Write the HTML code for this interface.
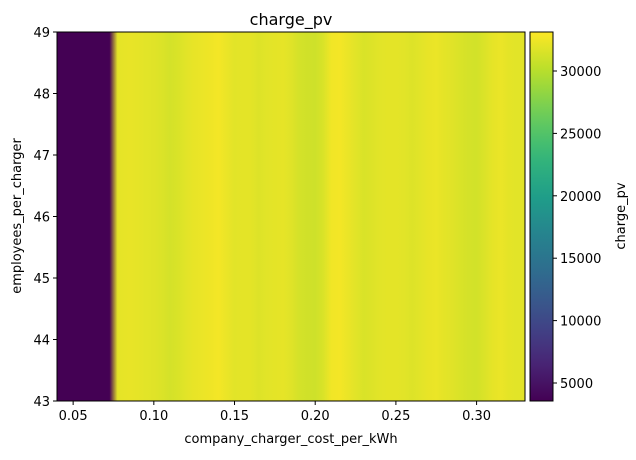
<!DOCTYPE html>
<html><head><meta charset="utf-8"><style>
body{margin:0;background:#fff;font-family:"Liberation Sans","DejaVu Sans",sans-serif;}
svg text{font-family:"DejaVu Sans","Liberation Sans",sans-serif;fill:#000;}
</style></head><body>
<svg id="chart" width="636" height="455" xmlns="http://www.w3.org/2000/svg">
<defs id="defs"></defs>
<text x="291" y="25" font-size="16" text-anchor="middle">charge_pv</text>
<g id="heat"></g>
<g id="cbar"></g>
<g id="axes"></g>
</svg>
<script>
const xCols = [0.04,0.05,0.06,0.07,0.0725,0.0775,0.08,0.085,0.09,0.095,0.10,0.105,0.11,0.115,0.12,0.125,0.13,0.135,0.14,0.145,0.15,0.155,0.16,0.165,0.17,0.175,0.18,0.185,0.19,0.195,0.20,0.205,0.21,0.215,0.22,0.225,0.23,0.235,0.24,0.245,0.25,0.255,0.26,0.265,0.27,0.275,0.28,0.285,0.29,0.295,0.30,0.305,0.31,0.315,0.32,0.325,0.33];
const colValues = [3600,3600,3600,3600,3600,32000,32100,32200,32100,31900,31800,31600,31300,31500,31900,32200,32300,32500,32700,32300,31900,32000,32000,31700,31900,32000,32100,31800,31300,31100,31000,31500,32600,32700,32300,31900,31500,31700,31900,32000,32000,31900,31700,31900,32200,32300,32000,31800,31500,31300,31200,31600,32100,32300,32000,31900,31900];
const xTicks = [0.05,0.10,0.15,0.20,0.25,0.30];
const yTicks = [43,44,45,46,47,48,49];
const cTicks = [5000,10000,15000,20000,25000,30000];
const vmin = 3558, vmax = 33125;
const X0=57,X1=525,Y0=32,Y1=401,CX0=530,CX1=553;
const xS = v => X0 + (v-0.04)/(0.33-0.04)*(X1-X0);
const yS = v => Y1 - (v-43)/(49-43)*(Y1-Y0);
const cS = v => Y1 - (v-vmin)/(vmax-vmin)*(Y1-Y0);
const vir = [[68,1,84],[72,40,120],[62,74,137],[49,104,142],[38,130,142],[31,158,137],[53,183,121],[109,205,89],[180,222,44],[253,231,37]];
function viridis(t){t=Math.max(0,Math.min(1,t));const p=t*(vir.length-1),i=Math.min(vir.length-2,Math.floor(p)),f=p-i;
 const c=vir[i].map((a,k)=>Math.round(a+(vir[i+1][k]-a)*f));return `rgb(${c[0]},${c[1]},${c[2]})`;}
const NS="http://www.w3.org/2000/svg";
function mk(tag,attrs,parent){const e=document.createElementNS(NS,tag);for(const k in attrs)e.setAttribute(k,attrs[k]);parent.appendChild(e);return e;}
const defs=document.getElementById('defs');
const g=mk('linearGradient',{id:'hg',x1:'0',x2:'1',y1:'0',y2:'0'},defs);
xCols.forEach((x,i)=>{mk('stop',{offset:((xS(x)-X0)/(X1-X0)).toFixed(4),'stop-color':viridis((colValues[i]-vmin)/(vmax-vmin))},g);});
const cg=mk('linearGradient',{id:'cg',x1:'0',x2:'0',y1:'1',y2:'0'},defs);
for(let i=0;i<=20;i++){mk('stop',{offset:i/20,'stop-color':viridis(i/20)},cg);}
const heat=document.getElementById('heat');
const hr=mk('rect',{x:X0,y:Y0,width:X1-X0,height:Y1-Y0,fill:'url(#hg)'},heat);


const fr=mk('rect',{x:X0,y:Y0,width:X1-X0,height:Y1-Y0,fill:'none',stroke:'#000','stroke-width':1},heat);


const cb=document.getElementById('cbar');
const cr=mk('rect',{x:CX0,y:Y0,width:CX1-CX0,height:Y1-Y0,fill:'url(#cg)',stroke:'#000','stroke-width':1},cb);


cTicks.forEach(v=>{const y=cS(v);
 mk('line',{x1:CX1,x2:CX1+4,y1:y,y2:y,stroke:'#000'},cb);
 const t=mk('text',{x:CX1+7,y:y+5,'font-size':13},cb);t.textContent=v;
 
 });
const cl=mk('text',{x:625,y:216,'font-size':13,'text-anchor':'middle',transform:'rotate(-90 625 216)'},cb);cl.textContent='charge_pv';


const ax=document.getElementById('axes');
xTicks.forEach(v=>{const x=xS(v);
 mk('line',{x1:x,x2:x,y1:Y1,y2:Y1+4,stroke:'#000'},ax);
 const t=mk('text',{x:x,y:Y1+19,'font-size':13,'text-anchor':'middle'},ax);t.textContent=v.toFixed(2);
 
 });
yTicks.forEach(v=>{const y=yS(v);
 mk('line',{x1:X0-4,x2:X0,y1:y,y2:y,stroke:'#000'},ax);
 const t=mk('text',{x:X0-7,y:y+5,'font-size':13,'text-anchor':'end'},ax);t.textContent=v;
 
 });
const xl=mk('text',{x:291,y:443,'font-size':13,'text-anchor':'middle'},ax);xl.textContent='company_charger_cost_per_kWh';


const yl=mk('text',{x:21,y:216,'font-size':13,'text-anchor':'middle',transform:'rotate(-90 21 216)'},ax);yl.textContent='employees_per_charger';


</script>
</body></html>
